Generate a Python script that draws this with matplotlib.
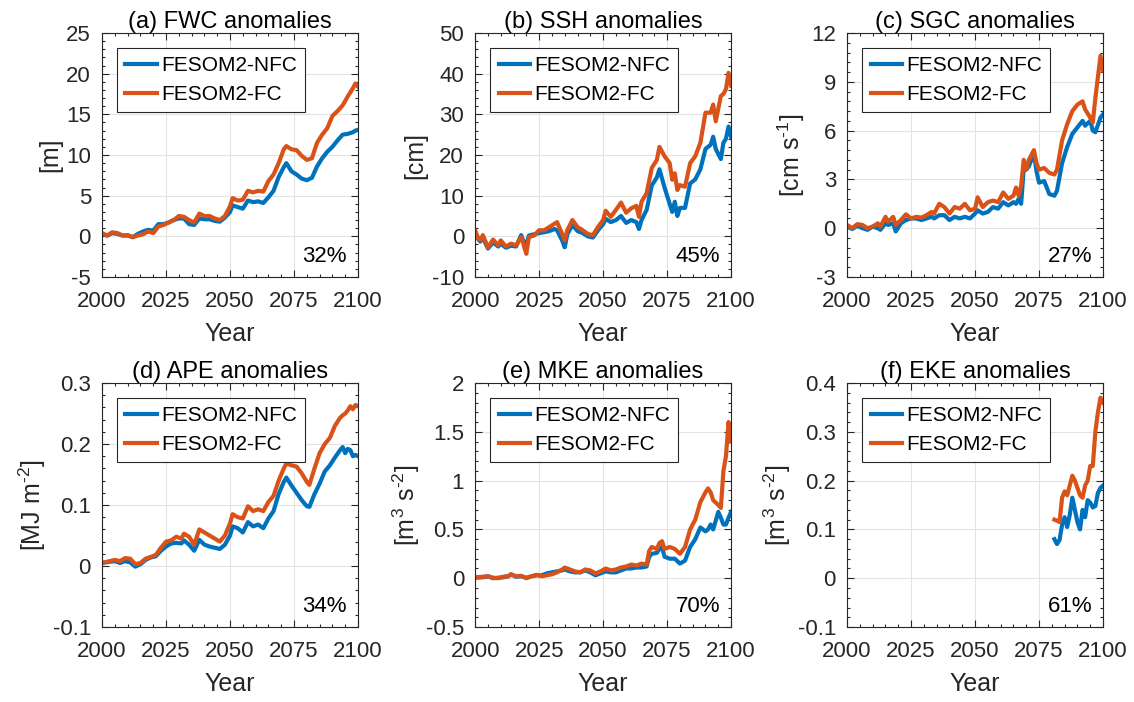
import matplotlib
matplotlib.use("Agg")
import matplotlib.pyplot as plt
from matplotlib.ticker import MultipleLocator, AutoMinorLocator, FuncFormatter

plt.rcParams['font.family'] = ['Liberation Sans', 'DejaVu Sans']
plt.rcParams['mathtext.default'] = 'regular'
plt.rcParams['axes.unicode_minus'] = False

blue = '#0072BD'
orange = '#D95319'

# (a) FWC
yr_a = [2000, 2002, 2004, 2006, 2008, 2010, 2012, 2014, 2016, 2018, 2020, 2022, 2024, 2026, 2028,
        2030, 2032, 2034, 2036, 2038, 2040, 2042, 2044, 2046, 2048, 2050, 2051, 2053, 2055, 2057,
        2059, 2061, 2063, 2065, 2067, 2069, 2071, 2072, 2074, 2076, 2078, 2080, 2082, 2084, 2086,
        2088, 2090, 2092, 2094, 2096, 2098, 2099, 2100]
fwc_nfc = [0.3, 0.1, 0.4, 0.3, 0.1, 0.1, -0.1, 0.3, 0.6, 0.8, 0.7, 1.5, 1.5, 1.7, 2.0,
           2.2, 2.2, 1.5, 1.4, 2.2, 2.1, 2.1, 1.9, 1.8, 2.3, 3.0, 3.8, 3.6, 3.4, 4.4,
           4.2, 4.3, 4.1, 4.8, 5.6, 7.3, 8.5, 9.0, 8.0, 7.6, 7.1, 6.9, 7.2, 8.6, 9.6,
           10.4, 11.0, 11.8, 12.5, 12.6, 12.8, 13.0, 13.1]
fwc_fc = [0.4, 0.1, 0.5, 0.4, 0.1, 0.15, -0.1, 0.1, 0.25, 0.6, 0.4, 1.2, 1.4, 1.7, 2.0,
          2.5, 2.4, 2.0, 1.7, 2.8, 2.5, 2.5, 2.2, 2.0, 2.5, 3.7, 4.7, 4.4, 4.5, 5.6,
          5.4, 5.6, 5.5, 6.8, 7.6, 9.0, 10.7, 11.1, 10.7, 10.6, 9.9, 9.4, 9.6, 11.5, 12.5,
          13.3, 14.8, 15.4, 16.1, 17.2, 18.2, 18.8, 18.4]

# (b) SSH
yr_b = [2000, 2001, 2002, 2003, 2005, 2007, 2009, 2010, 2012, 2014, 2016, 2018, 2019, 2020, 2021,
        2023, 2025, 2027, 2029, 2031, 2032, 2034, 2035, 2036, 2038, 2040, 2042, 2044, 2046, 2048,
        2050, 2051, 2053, 2055, 2057, 2059, 2061, 2063, 2064, 2065, 2067, 2069, 2071, 2072, 2074,
        2076, 2077, 2078, 2079, 2080, 2082, 2084, 2086, 2088, 2090, 2092, 2093, 2094, 2096, 2097,
        2098, 2099, 2100]
ssh_nfc = [1.2, -0.5, -1.3, -0.3, -3.0, -1.5, -2.5, -1.8, -2.8, -2.3, -2.5, 0.3, -1.5, -2.0, 0.2,
           0.5, 0.8, 1.0, 1.3, 1.8, 1.5, -1.0, -2.7, 0.5, 2.8, 1.3, 0.8, 0.0, -0.3, 1.5,
           3.0, 4.3, 3.5, 4.0, 5.0, 3.3, 4.0, 3.5, 1.8, 4.0, 6.5, 12.5, 14.5, 16.5, 12.0,
           8.0, 6.0, 8.5, 5.0, 7.0, 7.0, 13.0, 14.0, 16.5, 21.5, 22.5, 24.5, 21.5, 19.0, 23.0,
           24.0, 27.0, 24.5]
ssh_fc = [1.5, -0.2, -1.0, 0.3, -2.7, -0.8, -2.2, -1.0, -2.5, -1.8, -2.2, -0.2, -2.2, -4.3, -0.2,
          0.2, 1.5, 1.5, 2.3, 3.1, 3.5, 0.6, -1.0, 1.5, 4.0, 2.3, 1.5, 0.6, 0.3, 2.3,
          4.0, 6.3, 4.8, 6.5, 8.3, 5.8, 6.9, 7.5, 4.8, 8.5, 10.6, 16.8, 18.8, 22.0, 19.7,
          18.0, 13.9, 15.5, 11.4, 12.6, 12.2, 18.0, 19.7, 23.0, 30.4, 30.4, 32.4, 28.3, 34.5, 35.0,
          36.2, 40.2, 37.0]

# (c) SGC
yr_c = [2000, 2002, 2004, 2006, 2008, 2010, 2012, 2013, 2015, 2016, 2018, 2019, 2021, 2023, 2025,
        2027, 2029, 2031, 2033, 2034, 2036, 2038, 2040, 2042, 2044, 2046, 2048, 2050, 2051, 2053,
        2055, 2057, 2059, 2061, 2063, 2065, 2066, 2067, 2068, 2069, 2070, 2071, 2073, 2074, 2075,
        2077, 2079, 2081, 2082, 2084, 2086, 2088, 2090, 2092, 2093, 2095, 2096, 2097, 2099, 2100]
sgc_nfc = [0.1, -0.05, 0.15, 0.0, -0.1, 0.1, 0.0, -0.1, 0.3, 0.2, 0.3, -0.2, 0.3, 0.5, 0.6,
           0.6, 0.5, 0.6, 0.7, 0.6, 0.8, 0.8, 0.5, 0.7, 0.6, 0.7, 0.6, 0.9, 1.1, 0.9,
           1.0, 1.3, 1.2, 1.6, 1.4, 1.6, 1.5, 1.8, 1.5, 3.6, 3.6, 3.8, 4.6, 3.5, 2.8,
           2.9, 2.1, 2.0, 2.3, 4.0, 5.0, 5.8, 6.2, 6.6, 6.3, 6.6, 6.0, 5.9, 6.8, 7.0]
sgc_fc = [0.2, 0.0, 0.25, 0.2, 0.0, 0.1, 0.3, 0.1, 0.7, 0.4, 0.7, 0.2, 0.5, 0.85, 0.6,
          0.7, 0.65, 0.8, 1.0, 0.9, 1.5, 1.3, 0.9, 1.3, 1.2, 1.5, 1.1, 1.2, 1.9, 1.3,
          1.6, 1.7, 1.6, 2.2, 1.8, 2.0, 2.5, 2.0, 2.6, 4.2, 3.6, 4.2, 4.8, 4.0, 3.6,
          3.7, 3.4, 3.3, 3.6, 5.4, 6.4, 7.2, 7.6, 7.8, 7.3, 6.8, 6.5, 8.0, 10.6, 9.7]

# (d) APE
yr_d = [2000, 2003, 2005, 2007, 2009, 2011, 2013, 2015, 2017, 2019, 2021, 2023, 2025, 2027, 2029,
        2031, 2032, 2034, 2036, 2038, 2040, 2042, 2044, 2046, 2048, 2050, 2051, 2053, 2055, 2057,
        2059, 2061, 2063, 2065, 2067, 2069, 2071, 2072, 2074, 2076, 2078, 2080, 2081, 2083, 2085,
        2087, 2089, 2091, 2093, 2094, 2095, 2096, 2097, 2098, 2099, 2100]
ape_nfc = [0.005, 0.007, 0.008, 0.005, 0.008, 0.006, -0.001, 0.003, 0.010, 0.014, 0.016, 0.025, 0.032, 0.037, 0.038,
           0.037, 0.042, 0.035, 0.025, 0.043, 0.035, 0.032, 0.030, 0.028, 0.035, 0.050, 0.065, 0.062, 0.055, 0.072,
           0.065, 0.068, 0.062, 0.078, 0.090, 0.118, 0.138, 0.145, 0.132, 0.120, 0.108, 0.098, 0.097, 0.118, 0.135,
           0.155, 0.165, 0.178, 0.190, 0.195, 0.185, 0.192, 0.190, 0.180, 0.182, 0.180]
ape_fc = [0.005, 0.008, 0.010, 0.008, 0.013, 0.012, 0.003, 0.005, 0.012, 0.015, 0.018, 0.030, 0.040, 0.042, 0.048,
          0.045, 0.053, 0.048, 0.035, 0.060, 0.055, 0.050, 0.045, 0.040, 0.050, 0.070, 0.085, 0.080, 0.078, 0.098,
          0.090, 0.093, 0.090, 0.105, 0.115, 0.140, 0.160, 0.168, 0.165, 0.163, 0.152, 0.138, 0.133, 0.160, 0.185,
          0.200, 0.210, 0.230, 0.243, 0.247, 0.250, 0.255, 0.262, 0.257, 0.264, 0.262]

# (e) MKE
yr_e = [2000, 2003, 2005, 2007, 2009, 2011, 2013, 2014, 2016, 2018, 2020, 2022, 2024, 2026, 2028,
        2030, 2032, 2034, 2035, 2037, 2039, 2041, 2043, 2045, 2047, 2049, 2051, 2053, 2055, 2057,
        2059, 2061, 2063, 2065, 2067, 2068, 2069, 2071, 2072, 2073, 2074, 2076, 2078, 2080, 2082,
        2084, 2086, 2088, 2090, 2091, 2092, 2093, 2095, 2096, 2097, 2098, 2099, 2100]
mke_nfc = [0.005, 0.01, 0.02, 0.0, 0.005, 0.01, 0.02, 0.04, 0.015, 0.02, 0.005, 0.02, 0.03, 0.03, 0.05,
           0.06, 0.07, 0.08, 0.09, 0.07, 0.06, 0.06, 0.08, 0.06, 0.03, 0.05, 0.07, 0.06, 0.06, 0.08,
           0.10, 0.10, 0.11, 0.11, 0.12, 0.22, 0.25, 0.26, 0.30, 0.32, 0.22, 0.20, 0.20, 0.15, 0.18,
           0.32, 0.40, 0.52, 0.48, 0.50, 0.55, 0.50, 0.68, 0.62, 0.55, 0.55, 0.62, 0.68]
mke_fc = [0.01, 0.015, 0.02, 0.005, 0.0, 0.015, 0.02, 0.04, 0.02, 0.025, 0.0, 0.02, 0.035, 0.02, 0.03,
          0.04, 0.06, 0.09, 0.11, 0.09, 0.07, 0.06, 0.09, 0.08, 0.05, 0.07, 0.10, 0.08, 0.09, 0.11,
          0.12, 0.14, 0.13, 0.15, 0.14, 0.28, 0.32, 0.30, 0.36, 0.38, 0.30, 0.32, 0.30, 0.25, 0.32,
          0.50, 0.60, 0.78, 0.88, 0.92, 0.88, 0.80, 0.75, 0.72, 1.10, 1.25, 1.60, 1.40]

# (f) EKE
yr_f = [2081, 2082, 2083, 2084, 2085, 2086, 2087, 2088, 2089, 2090, 2091, 2092, 2093, 2094, 2095,
        2096, 2097, 2098, 2099, 2100]
eke_nfc = [0.080, 0.070, 0.078, 0.110, 0.125, 0.105, 0.130, 0.165, 0.140, 0.115, 0.100, 0.140, 0.125, 0.160, 0.155,
           0.145, 0.148, 0.175, 0.185, 0.190]
eke_fc = [0.120, 0.118, 0.115, 0.165, 0.178, 0.170, 0.190, 0.210, 0.200, 0.185, 0.170, 0.165, 0.190, 0.200, 0.230,
          0.230, 0.300, 0.340, 0.370, 0.360]

titles = ['(a) FWC anomalies', '(b) SSH anomalies', '(c) SGC anomalies',
          '(d) APE anomalies', '(e) MKE anomalies', '(f) EKE anomalies']
ylabels = ['[m]', '[cm]', '[cm s$^{\u2010 1}$]', '[MJ m$^{\u2010 2}$]', '[m$^{3}$ s$^{\u2010 2}$]', '[m$^{3}$ s$^{\u2010 2}$]']
ylims = [(-5, 25), (-10, 50), (-3, 12), (-0.1, 0.3), (-0.5, 2), (-0.1, 0.4)]
ysteps = [5, 10, 3, 0.1, 0.5, 0.1]
percents = ['32%', '45%', '27%', '34%', '70%', '61%']
years = [yr_a, yr_b, yr_c, yr_d, yr_e, yr_f]
nfc = [fwc_nfc, ssh_nfc, sgc_nfc, ape_nfc, mke_nfc, eke_nfc]
fc = [fwc_fc, ssh_fc, sgc_fc, ape_fc, mke_fc, eke_fc]

fig = plt.figure(figsize=(11.34, 7.02), dpi=100)
lefts = [0.090, 0.419, 0.747]
bottoms = [0.6054, 0.1068]
w, h = 0.2257, 0.3476

tick_c = '#262626'
for k in range(6):
    ax = fig.add_axes([lefts[k % 3], bottoms[k // 3], w, h])
    ax.plot(years[k], nfc[k], color=blue, lw=3, label='FESOM2-NFC')
    ax.plot(years[k], fc[k], color=orange, lw=3, label='FESOM2-FC')
    ax.set_xlim(2000, 2100)
    ax.set_ylim(*ylims[k])
    ax.xaxis.set_major_locator(MultipleLocator(25))
    ax.xaxis.set_minor_locator(MultipleLocator(5))
    ax.yaxis.set_major_locator(MultipleLocator(ysteps[k]))
    ax.yaxis.set_minor_locator(AutoMinorLocator(5))
    ax.yaxis.set_major_formatter(FuncFormatter(lambda v, p: '%g' % round(v, 6)))
    ax.tick_params(which='both', direction='in', top=True, right=True, colors=tick_c,
                   labelsize=16, width=0.8)
    ax.tick_params(which='major', length=5)
    ax.tick_params(which='minor', length=2.5)
    ax.tick_params(axis='x', pad=10)
    ax.tick_params(axis='y', pad=8)
    ax.grid(True, which='major', color='#e3e3e3', lw=0.8)
    ax.set_axisbelow(True)
    for s in ax.spines.values():
        s.set_color(tick_c)
        s.set_linewidth(0.8)
    ax.set_title(titles[k], fontsize=17, pad=3, color='black')
    ax.set_xlabel('Year', fontsize=18, color=tick_c, labelpad=7)
    ax.set_ylabel(ylabels[k], fontsize=18, color=tick_c, labelpad=3)
    ax.text(0.87, 0.085, percents[k], transform=ax.transAxes, ha='center', va='center',
            fontsize=16, color='black')
    leg = ax.legend(loc='upper left', bbox_to_anchor=(0.059, 0.938), borderaxespad=0,
                    fontsize=15, fancybox=False, framealpha=1, edgecolor=tick_c,
                    handlelength=1.5, handletextpad=0.2, borderpad=0.4, labelspacing=0.45)
    leg.get_frame().set_linewidth(0.8)

fig.savefig('out.png', dpi=100)
